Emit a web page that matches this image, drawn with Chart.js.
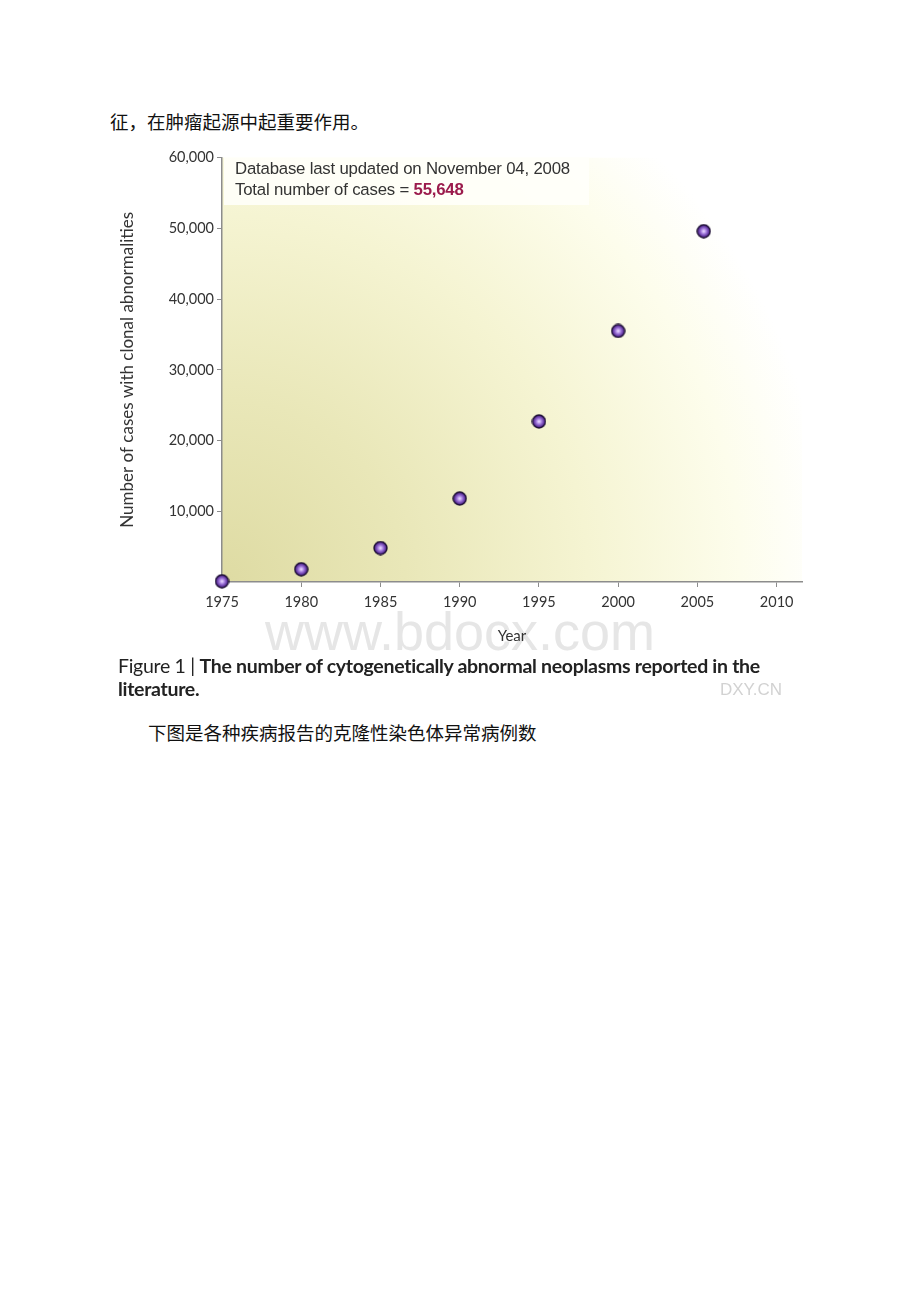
<!DOCTYPE html>
<html>
<head>
<meta charset="utf-8">
<script src="https://cdn.jsdelivr.net/npm/chart.js@4/dist/chart.umd.min.js"></script>
<style>
  body { margin: 0; background: #fff; width: 920px; height: 1302px; position: relative; overflow: hidden; }
  .cn { position: absolute; font-family: "Noto Sans CJK SC", sans-serif; font-size: 18.5px; color: #111; white-space: nowrap; }
  #wm { position: absolute; left: 0; width: 920px; top: 600px; text-align: center; font-family: "Liberation Sans", Arial, sans-serif; font-size: 54px; color: #e6e6e6; }
  #box { position: absolute; left: 224px; top: 157px; width: 365px; height: 48px; background: rgba(255,255,250,0.88); }
  #box div { position: absolute; left: 11px; font-family: "Liberation Sans", Arial, sans-serif; font-size: 16.8px; color: #333; white-space: nowrap; letter-spacing: -0.2px; }
  #box b { color: #9b1b4c; }
  #caption { position: absolute; left: 118px; top: 654px; font-family: Lato, sans-serif; font-size: 19.5px; line-height: 23px; color: #222; white-space: nowrap; letter-spacing: -0.3px; }
  #dxy { position: absolute; left: 720px; top: 680px; font-family: "Liberation Sans", Arial, sans-serif; font-size: 17px; color: #d2d2d2; }
  #chart1 { position: absolute; left: 100px; top: 146px; }
</style>
</head>
<body>
<div class="cn" style="left:110px; top:108px;">征，在肿瘤起源中起重要作用。</div>
<div id="wm">www.bdocx.com</div>
<canvas id="chart1" width="720" height="510"></canvas>
<div id="box">
  <div style="top:2px;">Database last updated on November 04, 2008</div>
  <div style="top:23px;">Total number of cases = <b>55,648</b></div>
</div>
<div id="caption">Figure 1 | <b>The number of cytogenetically abnormal neoplasms reported in the</b><br><b>literature.</b></div>
<div id="dxy">DXY.CN</div>
<div class="cn" style="left:148px; top:719px;">下图是各种疾病报告的克隆性染色体异常病例数</div>

<script>
// dados
const anos = [1975, 1980, 1985, 1990, 1995, 2000, 2005.4];
const casos = [100, 1800, 4800, 11800, 22700, 35500, 49600];
const xTicks = [1975, 1980, 1985, 1990, 1995, 2000, 2005, 2010];
const yTicks = [10000, 20000, 30000, 40000, 50000, 60000];
const yTickLabels = ["10,000", "20,000", "30,000", "40,000", "50,000", "60,000"];

// bolinha roxa com brilho
function criarEsfera(r) {
  const c = document.createElement("canvas");
  const s = r * 2 + 2;
  c.width = s;
  c.height = s;
  const ctx = c.getContext("2d");
  const g = ctx.createRadialGradient(s / 2, s / 2, 0.5, s / 2, s / 2, r);
  g.addColorStop(0, "#e6d2ff");
  g.addColorStop(0.35, "#a77fe0");
  g.addColorStop(0.8, "#5b2f9a");
  g.addColorStop(1, "#2c1650");
  ctx.beginPath();
  ctx.arc(s / 2, s / 2, r, 0, Math.PI * 2);
  ctx.fillStyle = g;
  ctx.fill();
  ctx.lineWidth = 1.4;
  ctx.strokeStyle = "#1f1036";
  ctx.stroke();
  return c;
}

// fundo em degradê
const fundo = {
  id: "fundo",
  beforeDraw(chart) {
    const { ctx, chartArea: a } = chart;
    const g = ctx.createRadialGradient(a.left, a.bottom, 0, a.left, a.bottom, 610);
    g.addColorStop(0, "#dedba3");
    g.addColorStop(0.3, "#e9e7b8");
    g.addColorStop(0.6, "#f5f4d2");
    g.addColorStop(0.85, "#fdfdec");
    g.addColorStop(1, "#ffffff");
    ctx.save();
    ctx.fillStyle = g;
    ctx.fillRect(a.left, a.top, a.right - a.left, a.bottom - a.top);
    ctx.restore();
  },
};

const eixoCor = "#8c8c8c";
const fonteTick = { family: "Lato", size: 14.5 };

new Chart(document.getElementById("chart1"), {
  type: "scatter",
  data: {
    datasets: [
      {
        data: anos.map((a, i) => ({ x: a, y: casos[i] })),
        pointStyle: criarEsfera(6.5),
        pointRadius: 7,
        clip: false,
      },
    ],
  },
  options: {
    responsive: false,
    animation: false,
    layout: { padding: { top: 10, right: 18, left: 0, bottom: 0 } },
    plugins: {
      legend: { display: false },
      tooltip: { enabled: false },
    },
    scales: {
      x: {
        type: "linear",
        min: 1975,
        max: 2011.6,
        afterBuildTicks: (scale) => {
          scale.ticks = xTicks.map((v) => ({ value: v }));
        },
        afterFit: (scale) => {
          scale.height = 74;
        },
        grid: { drawOnChartArea: false, tickLength: 5, color: eixoCor, tickWidth: 1 },
        border: { color: eixoCor, width: 1.5 },
        ticks: { font: fonteTick, color: "#333", padding: 7, maxRotation: 0, callback: (v) => String(v) },
        title: { display: true, text: "Year", font: { family: "Lato", size: 15 }, color: "#333", padding: { top: 4, bottom: 11 } },
      },
      y: {
        type: "linear",
        min: 0,
        max: 60000,
        afterBuildTicks: (scale) => {
          scale.ticks = yTicks.map((v) => ({ value: v }));
        },
        afterFit: (scale) => {
          scale.width = 122;
        },
        grid: { drawOnChartArea: false, tickLength: 5, color: eixoCor, tickWidth: 1 },
        border: { color: eixoCor, width: 1.5 },
        ticks: {
          font: fonteTick,
          color: "#333",
          padding: 3,
          callback: (v) => yTickLabels[yTicks.indexOf(v)],
        },
        title: {
          display: true,
          text: "Number of cases with clonal abnormalities",
          font: { family: "Lato", size: 17 },
          color: "#333",
          padding: { top: 17, bottom: 0 },
        },
      },
    },
  },
  plugins: [fundo],
});
</script>
</body>
</html>
